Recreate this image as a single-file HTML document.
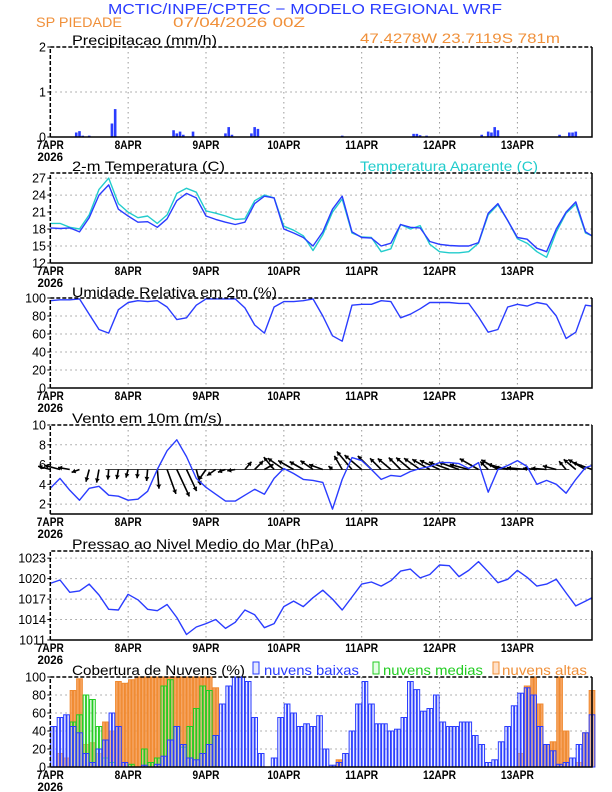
<!DOCTYPE html>
<html><head><meta charset="utf-8"><style>
html,body{margin:0;padding:0;background:#fff;}
svg{display:block;font-family:"Liberation Sans",sans-serif;}
</style></head><body>
<svg id="c" width="612" height="792" viewBox="0 0 612 792">
<text x="108" y="14" textLength="394" lengthAdjust="spacingAndGlyphs" font-size="15" fill="#2a3cff">MCTIC/INPE/CPTEC − MODELO REGIONAL WRF</text>
<text x="36" y="27" textLength="86" lengthAdjust="spacingAndGlyphs" font-size="14" fill="#f0903a">SP PIEDADE</text>
<text x="173" y="27" textLength="132" lengthAdjust="spacingAndGlyphs" font-size="14" fill="#f0903a">07/04/2026 00Z</text>
<text x="360" y="43" textLength="200" lengthAdjust="spacingAndGlyphs" font-size="14" fill="#f0903a">47.4278W 23.7119S 781m</text>
<text x="72" y="45" textLength="145" lengthAdjust="spacingAndGlyphs" font-size="14" fill="#000">Precipitacao (mm/h)</text>
<text x="72" y="171" textLength="153" lengthAdjust="spacingAndGlyphs" font-size="14" fill="#000">2-m Temperatura (C)</text>
<text x="360" y="171" textLength="178" lengthAdjust="spacingAndGlyphs" font-size="14" fill="#20cccc">Temperatura Aparente (C)</text>
<text x="72" y="297" textLength="205" lengthAdjust="spacingAndGlyphs" font-size="14" fill="#000">Umidade Relativa em 2m (%)</text>
<text x="72" y="423" textLength="150" lengthAdjust="spacingAndGlyphs" font-size="14" fill="#000">Vento em 10m (m/s)</text>
<text x="72" y="549" textLength="262" lengthAdjust="spacingAndGlyphs" font-size="14" fill="#000">Pressao ao Nivel Medio do Mar (hPa)</text>
<text x="72" y="675" textLength="173" lengthAdjust="spacingAndGlyphs" font-size="14" fill="#000">Cobertura de Nuvens (%)</text>
<rect x="253" y="662" width="6" height="12" fill="#e4e8ff" stroke="#2a3cff"/>
<text x="264" y="675" textLength="95" lengthAdjust="spacingAndGlyphs" font-size="14" fill="#2a3cff">nuvens baixas</text>
<rect x="373" y="662" width="6" height="12" fill="#e4ffe4" stroke="#22cc22"/>
<text x="383" y="675" textLength="100" lengthAdjust="spacingAndGlyphs" font-size="14" fill="#22cc22">nuvens medias</text>
<rect x="493" y="662" width="6" height="12" fill="#ffe0c8" stroke="#f0903a"/>
<text x="502" y="675" textLength="85" lengthAdjust="spacingAndGlyphs" font-size="14" fill="#f0903a">nuvens altas</text>
</svg>
<script>
const hours3=[0,3,6,9,12,15,18,21,24,27,30,33,36,39,42,45,48,51,54,57,60,63,66,69,72,75,78,81,84,87,90,93,96,99,102,105,108,111,114,117,120,123,126,129,132,135,138,141,144,147,150,153,156,159,162,165,167];
const tempBlue=[18.2,18.1,18.2,17.5,20.0,24.0,25.8,21.5,20.3,19.2,19.3,18.3,19.8,23.0,24.3,23.5,20.3,19.7,19.2,18.8,19.2,22.5,23.8,23.5,18.0,17.3,16.5,15.0,17.5,21.5,23.8,17.5,16.5,16.4,15.0,15.5,18.8,18.3,18.2,15.8,15.3,15.1,15.0,15.0,15.6,20.8,22.5,19.5,16.5,16.2,14.6,14.0,18.0,21.0,22.8,17.5,16.8];
const tempApparent=[19.0,19.0,18.3,18.0,20.5,25.0,27.0,22.5,21.0,20.0,20.3,19.0,20.5,24.3,25.2,24.5,21.2,20.8,20.3,19.7,19.8,23.0,24.0,23.5,18.5,17.8,16.8,14.2,17.0,21.0,23.3,17.3,16.6,16.5,14.0,14.5,18.8,18.0,18.6,15.3,14.0,13.8,13.8,14.0,15.5,20.5,22.3,19.5,16.3,15.5,14.0,13.0,17.5,20.8,22.4,17.3,16.8];
const rh=[97,98,98,99,82,65,61,87,95,97,96,97,90,76,78,92,99,99,99,99,89,70,61,90,96,96,97,99,80,58,52,92,93,93,97,96,78,82,88,95,95,95,94,94,79,62,65,90,93,91,95,93,80,55,62,92,91];
const windSpeed=[3.6,4.6,3.4,2.4,3.6,3.8,2.9,2.8,2.4,2.5,3.3,5.5,7.4,8.5,6.8,4.6,3.7,3.0,2.3,2.3,2.9,3.5,3.0,4.6,5.6,5.1,4.5,4.4,4.2,1.5,4.5,6.7,6.4,5.5,4.5,4.9,4.8,5.3,5.6,5.8,6.2,6.2,6.1,5.6,6.2,3.2,5.5,5.9,6.4,5.8,4.0,4.4,4.0,3.1,4.5,5.7,5.9];
const windDir=[165,165,170,200,255,260,265,260,255,265,265,275,290,295,295,285,235,215,200,190,50,45,30,130,145,150,150,145,160,140,120,130,140,135,135,140,135,140,145,150,155,160,160,165,150,135,150,165,175,175,175,175,165,130,140,150,160];
const pressure=[1019.3,1019.8,1018.0,1018.2,1019.2,1017.6,1015.5,1015.4,1017.7,1016.9,1015.5,1015.3,1016.2,1014.3,1011.8,1012.9,1013.4,1014.0,1012.7,1013.6,1015.4,1014.7,1012.8,1013.4,1015.9,1016.7,1015.9,1017.2,1018.3,1017.0,1015.4,1017.3,1019.2,1019.5,1018.9,1019.7,1021.1,1021.4,1020.1,1020.6,1022.0,1021.9,1020.3,1021.2,1022.5,1021.0,1019.4,1019.9,1021.2,1020.2,1018.9,1019.2,1019.9,1017.9,1016.0,1016.7,1017.2];
const precipHours=[4,8,9,10,12,15,19,20,22,38,39,40,41,44,50,54,55,56,62,63,64,72,90,100,112,113,114,116,124,133,135,136,137,138,150,157,160,161,162];
const precipValues=[0.01,0.1,0.13,0.03,0.03,0.01,0.3,0.62,0.01,0.15,0.08,0.12,0.05,0.12,0.01,0.08,0.22,0.05,0.08,0.22,0.18,0.01,0.03,0.01,0.07,0.07,0.04,0.03,0.01,0.05,0.12,0.1,0.22,0.15,0.01,0.05,0.1,0.1,0.12];
const cloudLow=[45,55,58,45,38,15,5,20,30,60,45,5,0,0,2,0,3,12,30,45,25,10,8,15,25,35,70,90,100,100,95,55,15,0,10,55,70,60,45,48,45,57,20,2,5,15,40,70,95,70,48,48,40,42,55,95,86,62,65,80,50,45,45,50,50,35,25,5,8,28,45,68,82,88,80,45,25,18,3,5,10,25,38,58];
const cloudMid=[0,0,0,50,58,80,75,45,10,5,0,0,3,0,20,5,10,90,97,45,22,45,65,90,85,35,0,0,0,0,0,0,0,0,0,0,0,0,0,0,0,0,0,0,0,0,0,0,0,0,0,0,0,0,0,0,0,0,0,0,0,0,0,0,0,0,0,0,0,0,0,0,0,0,0,0,0,0,0,0,0,0,0,0];
const cloudHigh=[0,15,10,85,98,25,27,15,50,40,95,93,97,100,100,100,100,100,100,100,100,100,100,100,100,88,0,0,0,0,0,0,0,0,0,0,0,0,0,0,0,0,0,0,8,0,0,0,0,0,0,0,0,0,0,0,0,0,0,0,0,0,0,0,0,0,0,0,0,0,0,0,15,90,100,70,25,28,100,40,0,5,38,85];
const dayLabels=["7APR","8APR","9APR","10APR","11APR","12APR","13APR"];
const precipTicks=[0,1,2];
const tempTicks=[12,15,18,21,24,27];
const rhTicks=[0,20,40,60,80,100];
const windTicks=[2,4,6,8,10];
const pressTicks=[1011,1014,1017,1020,1023];
const cloudTicks=[0,20,40,60,80,100];

const NS="http://www.w3.org/2000/svg";
const svg=document.getElementById('c');
const X0=50.3, X1=592, HMAX=167;
function xOf(h){return X0+h*(X1-X0)/HMAX;}
function mk(tag,attrs,parent){const e=document.createElementNS(NS,tag);for(const k in attrs)e.setAttribute(k,attrs[k]);(parent||svg).appendChild(e);return e;}
const BLUE="#2a3cff";

function panel(name,top,bot,min,max,ticks){
  const y=v=>bot-(v-min)/(max-min)*(bot-top);
  const g=mk('g',{});
  
  
  for(let d=1;d<7;d++){
    const l=mk('line',{x1:xOf(d*24),x2:xOf(d*24),y1:top,y2:bot,stroke:'#999','stroke-dasharray':'1.5,3.5','stroke-width':1},g);
    
    
  }
  ticks.forEach(t=>{
    if(t!==min&&t!==max){
      const l=mk('line',{x1:X0,x2:X1,y1:y(t),y2:y(t),stroke:'#999','stroke-dasharray':'1.5,3.5','stroke-width':1},g);
      
      
    }
    const tx=mk('text',{x:46,y:y(t)+4.5,'text-anchor':'end','font-size':12.5},g);
    tx.textContent=t;
    
    
    const tk=mk('line',{x1:X0-3,x2:X0,y1:y(t),y2:y(t),stroke:'#000'},g);
    
    
  });
  dayLabels.forEach((lab,i)=>{
    const tx=mk('text',{x:xOf(i*24),y:bot+12,'text-anchor':'middle','font-size':11.5,'font-weight':'bold',textLength:lab.length>4?33:27,lengthAdjust:'spacingAndGlyphs'},g);
    tx.textContent=lab;
    
    
  });
  const yr=mk('text',{x:X0,y:bot+24,'text-anchor':'middle','font-size':11.5,'font-weight':'bold'},g);
  yr.textContent='2026';
  
  
  return {y,g,top,bot};
}
function frame(p){
  const f=mk('path',{d:`M${X0},${p.bot}H${X1}V${p.top}`,fill:'none',stroke:'#000','stroke-width':1.5});
  
  
  const f2=mk('path',{d:`M${X0},${p.bot}V${p.top}H${X1}`,fill:'none',stroke:'#000','stroke-width':1.5,'stroke-dasharray':'4,2'});
  
  
}
function line(p,vals,color,name,w){
  const d=vals.map((v,i)=>(i?'L':'M')+xOf(hours3[i]).toFixed(1)+','+p.y(v).toFixed(1)).join('');
  const e=mk('path',{d,fill:'none',stroke:color,'stroke-width':w||1.4,'stroke-linejoin':'round'});
  
  
}

// Precip
const p1=panel('precip',47,137,0,2,precipTicks);
precipHours.forEach((h,i)=>{
  const b=mk('rect',{x:xOf(h)-1.3,y:p1.y(precipValues[i]),width:2.6,height:Math.max(0.8,p1.bot-p1.y(precipValues[i])),fill:BLUE});
  
  
});
frame(p1);

// Temperature
const p2=panel('temp',173,263,12,27.9,tempTicks);
line(p2,tempApparent,'#22cccc','apparent-temp-line');
line(p2,tempBlue,BLUE,'temp-line');
frame(p2);

// RH
const p3=panel('rh',298,388,0,100,rhTicks);
line(p3,rh,BLUE,'rh-line');
frame(p3);

// Wind
const p4=panel('wind',425,514,1,10,windTicks);
const baseY=p4.y(5.5);
const K=3.5;
const bl=mk('line',{x1:X0+55,x2:xOf(160),y1:baseY,y2:baseY,stroke:'#000','stroke-width':0.8});


hours3.forEach((h,i)=>{
  const a=windDir[i]*Math.PI/180, L=windSpeed[i]*K;
  const x0=xOf(h), x1=x0+L*Math.cos(a), y1=baseY-L*Math.sin(a);
  const ar=mk('line',{x1:x0,y1:baseY,x2:x1,y2:y1,stroke:'#000','stroke-width':1.6});
  
  
  const hx=4,hw=2.4;
  const bx=x1-hx*Math.cos(a), by=y1+hx*Math.sin(a);
  const px=hw*Math.sin(a), py=hw*Math.cos(a);
  const hd=mk('polygon',{points:`${x1},${y1} ${bx+px},${by+py} ${bx-px},${by-py}`,fill:'#000'});
  
  
});
line(p4,windSpeed,BLUE,'wind-speed-line');
frame(p4);

// Pressure
const p5=panel('pressure',551,640,1011,1024.05,pressTicks);
line(p5,pressure,BLUE,'pressure-line');
frame(p5);

// Clouds
const p6=panel('cloud',677,767,0,100,cloudTicks);
function bars(vals,fill,stroke,op,name){
  vals.forEach((v,i)=>{
    if(v<=0)return;
    for(let k=0;k<2;k++){
      const h=i*2+k;
      const x=xOf(h), w=xOf(h+1)-x;
      const b=mk('rect',{x:x+0.4,y:p6.y(v),width:w-0.8,height:p6.bot-p6.y(v),fill,'fill-opacity':op,stroke,'stroke-width':1});
      
      
    }
  });
}
bars(cloudHigh,'#f5964a','#f08a30',0.85,'high-cloud-bar');
bars(cloudMid,'#bff5bf','#22cc22',0.35,'mid-cloud-bar');
bars(cloudLow,'#c8d2ff','#2a3cff',0.35,'low-cloud-bar');
frame(p6);
</script>
</body></html>
